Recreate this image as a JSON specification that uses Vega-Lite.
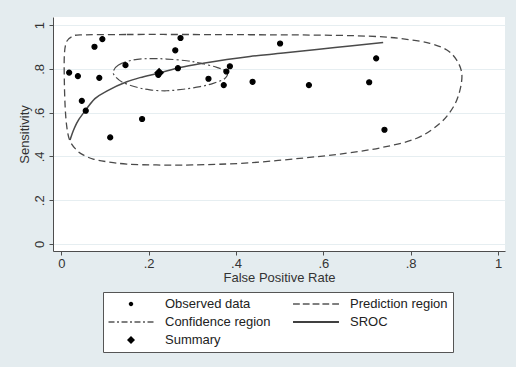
{
  "$schema": "https://vega.github.io/schema/vega-lite/v6.json",
  "width": 452,
  "height": 234,
  "autosize": {"type": "none"},
  "padding": {"left": 53, "top": 17, "right": 11, "bottom": 116},
  "background": "#e4ecef",
  "config": {
    "view": {"fill": "white", "stroke": null},
    "font": "Liberation Sans",
    "axis": {
      "domainColor": "#4d4d4d",
      "tickColor": "#4d4d4d",
      "tickSize": 4,
      "labelColor": "#333333",
      "titleColor": "#333333",
      "labelFont": "Liberation Sans",
      "titleFont": "Liberation Sans",
      "labelFontSize": 13,
      "titleFontSize": 13,
      "titleFontWeight": "normal",
      "labelFlush": false
    }
  },
  "datasets": {
    "obs": [
      {"fpr": 0.018, "sens": 0.783, "series": "Observed data"},
      {"fpr": 0.038, "sens": 0.767, "series": "Observed data"},
      {"fpr": 0.047, "sens": 0.654, "series": "Observed data"},
      {"fpr": 0.056, "sens": 0.609, "series": "Observed data"},
      {"fpr": 0.076, "sens": 0.901, "series": "Observed data"},
      {"fpr": 0.087, "sens": 0.759, "series": "Observed data"},
      {"fpr": 0.094, "sens": 0.936, "series": "Observed data"},
      {"fpr": 0.112, "sens": 0.487, "series": "Observed data"},
      {"fpr": 0.147, "sens": 0.817, "series": "Observed data"},
      {"fpr": 0.185, "sens": 0.571, "series": "Observed data"},
      {"fpr": 0.222, "sens": 0.773, "series": "Observed data"},
      {"fpr": 0.261, "sens": 0.885, "series": "Observed data"},
      {"fpr": 0.267, "sens": 0.803, "series": "Observed data"},
      {"fpr": 0.273, "sens": 0.941, "series": "Observed data"},
      {"fpr": 0.337, "sens": 0.755, "series": "Observed data"},
      {"fpr": 0.372, "sens": 0.726, "series": "Observed data"},
      {"fpr": 0.378, "sens": 0.788, "series": "Observed data"},
      {"fpr": 0.386, "sens": 0.812, "series": "Observed data"},
      {"fpr": 0.438, "sens": 0.741, "series": "Observed data"},
      {"fpr": 0.501, "sens": 0.916, "series": "Observed data"},
      {"fpr": 0.567, "sens": 0.726, "series": "Observed data"},
      {"fpr": 0.705, "sens": 0.739, "series": "Observed data"},
      {"fpr": 0.721, "sens": 0.848, "series": "Observed data"},
      {"fpr": 0.740, "sens": 0.522, "series": "Observed data"}
    ],
    "summ": [
      {"fpr": 0.224, "sens": 0.782, "series": "Summary"}
    ],
    "sroc": [
      {"fpr": 0.020, "sens": 0.475},
      {"fpr": 0.027, "sens": 0.515},
      {"fpr": 0.035, "sens": 0.551},
      {"fpr": 0.054, "sens": 0.607},
      {"fpr": 0.077, "sens": 0.664},
      {"fpr": 0.104, "sens": 0.698},
      {"fpr": 0.150, "sens": 0.741},
      {"fpr": 0.180, "sens": 0.760},
      {"fpr": 0.222, "sens": 0.780},
      {"fpr": 0.272, "sens": 0.806},
      {"fpr": 0.325, "sens": 0.826},
      {"fpr": 0.379, "sens": 0.843},
      {"fpr": 0.432, "sens": 0.857},
      {"fpr": 0.508, "sens": 0.872},
      {"fpr": 0.585, "sens": 0.889},
      {"fpr": 0.661, "sens": 0.904},
      {"fpr": 0.737, "sens": 0.920}
    ],
    "pred": [
      {"i": 0, "fpr": 0.043, "sens": 0.955},
      {"i": 1, "fpr": 0.150, "sens": 0.957},
      {"i": 2, "fpr": 0.300, "sens": 0.957},
      {"i": 3, "fpr": 0.432, "sens": 0.956},
      {"i": 4, "fpr": 0.547, "sens": 0.955},
      {"i": 5, "fpr": 0.661, "sens": 0.952},
      {"i": 6, "fpr": 0.737, "sens": 0.946},
      {"i": 7, "fpr": 0.791, "sens": 0.935},
      {"i": 8, "fpr": 0.844, "sens": 0.917},
      {"i": 9, "fpr": 0.883, "sens": 0.886},
      {"i": 10, "fpr": 0.905, "sens": 0.841},
      {"i": 11, "fpr": 0.917, "sens": 0.780},
      {"i": 12, "fpr": 0.913, "sens": 0.704},
      {"i": 13, "fpr": 0.898, "sens": 0.627},
      {"i": 14, "fpr": 0.867, "sens": 0.551},
      {"i": 15, "fpr": 0.814, "sens": 0.483},
      {"i": 16, "fpr": 0.737, "sens": 0.442},
      {"i": 17, "fpr": 0.661, "sens": 0.417},
      {"i": 18, "fpr": 0.585, "sens": 0.399},
      {"i": 19, "fpr": 0.432, "sens": 0.371},
      {"i": 20, "fpr": 0.300, "sens": 0.361},
      {"i": 21, "fpr": 0.218, "sens": 0.361},
      {"i": 22, "fpr": 0.150, "sens": 0.365},
      {"i": 23, "fpr": 0.104, "sens": 0.376},
      {"i": 24, "fpr": 0.073, "sens": 0.388},
      {"i": 25, "fpr": 0.050, "sens": 0.407},
      {"i": 26, "fpr": 0.035, "sens": 0.429},
      {"i": 27, "fpr": 0.020, "sens": 0.470},
      {"i": 28, "fpr": 0.013, "sens": 0.529},
      {"i": 29, "fpr": 0.009, "sens": 0.620},
      {"i": 30, "fpr": 0.007, "sens": 0.741},
      {"i": 31, "fpr": 0.007, "sens": 0.863},
      {"i": 32, "fpr": 0.012, "sens": 0.924},
      {"i": 33, "fpr": 0.024, "sens": 0.947}
    ],
    "conf": [
      {"i": 0, "fpr": 0.119, "sens": 0.787},
      {"i": 1, "fpr": 0.131, "sens": 0.818},
      {"i": 2, "fpr": 0.165, "sens": 0.841},
      {"i": 3, "fpr": 0.203, "sens": 0.847},
      {"i": 4, "fpr": 0.241, "sens": 0.845},
      {"i": 5, "fpr": 0.287, "sens": 0.837},
      {"i": 6, "fpr": 0.318, "sens": 0.826},
      {"i": 7, "fpr": 0.356, "sens": 0.807},
      {"i": 8, "fpr": 0.379, "sens": 0.787},
      {"i": 9, "fpr": 0.375, "sens": 0.757},
      {"i": 10, "fpr": 0.348, "sens": 0.734},
      {"i": 11, "fpr": 0.318, "sens": 0.719},
      {"i": 12, "fpr": 0.279, "sens": 0.707},
      {"i": 13, "fpr": 0.241, "sens": 0.700},
      {"i": 14, "fpr": 0.203, "sens": 0.704},
      {"i": 15, "fpr": 0.173, "sens": 0.716},
      {"i": 16, "fpr": 0.142, "sens": 0.737},
      {"i": 17, "fpr": 0.125, "sens": 0.762}
    ]
  },
  "encoding": {
    "x": {
      "field": "fpr",
      "type": "quantitative",
      "scale": {"domain": [-0.019, 1.016], "nice": false, "zero": false},
      "axis": {
        "title": "False Positive Rate",
        "values": [0, 0.2, 0.4, 0.6, 0.8, 1],
        "labelExpr": "replace(format(datum.value, '.1~f'), '0.', '.')",
        "grid": false,
        "labelPadding": 2,
        "titlePadding": 1
      }
    },
    "y": {
      "field": "sens",
      "type": "quantitative",
      "scale": {"domain": [-0.032, 1.037], "nice": false, "zero": false},
      "axis": {
        "title": "Sensitivity",
        "values": [0, 0.2, 0.4, 0.6, 0.8, 1],
        "labelExpr": "replace(format(datum.value, '.1~f'), '0.', '.')",
        "grid": true,
        "gridColor": "#e6eef1",
        "gridWidth": 1,
        "labelAngle": -90,
        "labelAlign": "center",
        "labelBaseline": "alphabetic",
        "labelPadding": 6,
        "titlePadding": 2
      }
    }
  },
  "layer": [
    {
      "data": {"name": "pred"},
      "mark": {"type": "line", "interpolate": "cardinal-closed", "strokeDash": [7, 4], "color": "#4a4a4a", "strokeWidth": 1.3},
      "encoding": {"order": {"field": "i", "type": "quantitative"}}
    },
    {
      "data": {"name": "conf"},
      "mark": {"type": "line", "interpolate": "cardinal-closed", "strokeDash": [8, 3, 2, 3], "color": "#4a4a4a", "strokeWidth": 1.2},
      "encoding": {"order": {"field": "i", "type": "quantitative"}}
    },
    {
      "data": {"name": "sroc"},
      "mark": {"type": "line", "interpolate": "monotone", "color": "#4a4a4a", "strokeWidth": 1.5},
      "encoding": {"order": {"field": "fpr", "type": "quantitative"}}
    },
    {
      "data": {"name": "obs"},
      "mark": {"type": "point", "filled": false, "fill": "black", "stroke": "black", "strokeWidth": 1.2, "opacity": 1, "size": 183},
      "encoding": {
        "shape": {
          "field": "series",
          "type": "nominal",
          "scale": {
            "domain": ["Observed data", "Prediction region", "Confidence region", "SROC", "Summary"],
            "range": [
              "M-0.37,0A0.37,0.37,0,1,0,0.37,0A0.37,0.37,0,1,0,-0.37,0Z",
              "M-3.83,-0.1H-2.7V0.1H-3.83ZM-2.2,-0.1H-1.07V0.1H-2.2ZM-0.57,-0.1H0.57V0.1H-0.57ZM1.07,-0.1H2.2V0.1H1.07ZM2.7,-0.1H3.83V0.1H2.7Z",
              "M-3.75,-0.1H-2.75V0.1H-3.75ZM-2.33,-0.1H-2V0.1H-2.33ZM-1.58,-0.1H-0.58V0.1H-1.58ZM-0.17,-0.1H0.17V0.1H-0.17ZM0.58,-0.1H1.58V0.1H0.58ZM2,-0.1H2.33V0.1H2ZM2.75,-0.1H3.75V0.1H2.75Z",
              "M-3.83,-0.11H3.83V0.11H-3.83Z",
              "M0,-0.67L0.67,0L0,0.67L-0.67,0Z"
            ]
          },
          "legend": {
            "title": null,
            "orient": "none",
            "legendX": 50,
            "legendY": 275,
            "direction": "horizontal",
            "columns": 2,
            "padding": 5,
            "rowPadding": 4,
            "columnPadding": 19,
            "symbolSize": 144,
            "symbolOffset": 16,
            "labelOffset": 27,
            "symbolStrokeColor": "black",
            "symbolFillColor": "black",
            "symbolStrokeWidth": 1.2,
            "labelFont": "Liberation Sans",
            "labelFontSize": 13,
            "labelColor": "#222222",
            "strokeColor": "#555555",
            "fillColor": "white"
          }
        }
      }
    },
    {
      "data": {"name": "summ"},
      "mark": {"type": "point", "filled": false, "fill": "black", "stroke": "black", "strokeWidth": 1.2, "opacity": 1, "size": 150},
      "encoding": {
        "shape": {"field": "series", "type": "nominal"}
      }
    }
  ]
}
